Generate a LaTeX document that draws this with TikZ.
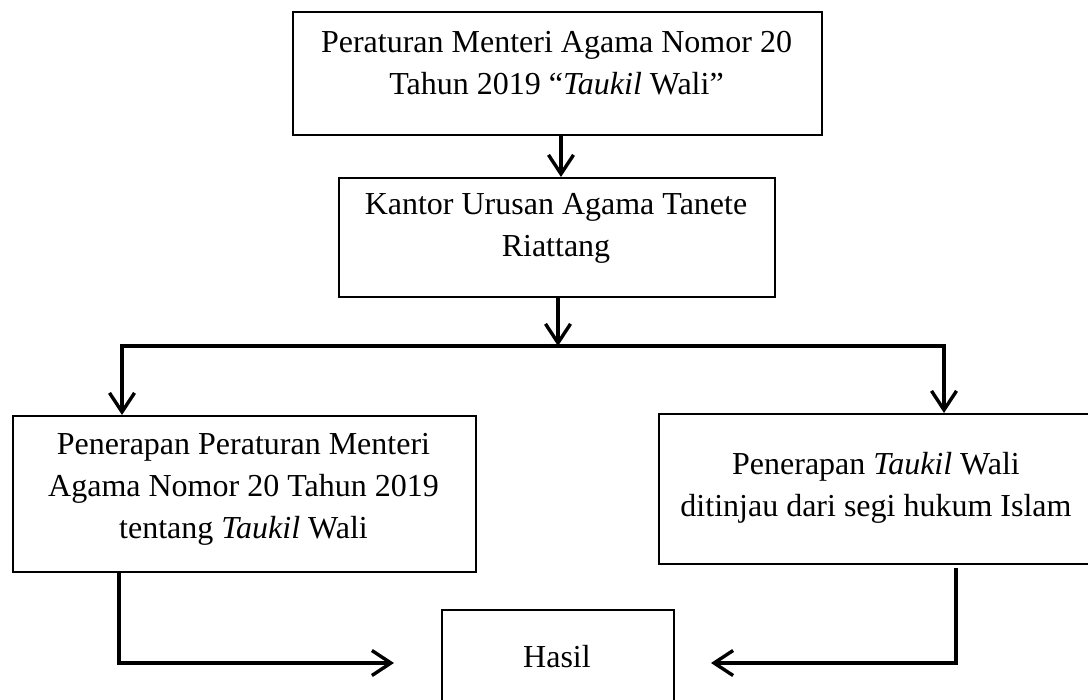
\documentclass[tikz,border=0pt]{standalone}
\usepackage{fontspec}
\setmainfont{Liberation Serif}
\usetikzlibrary{arrows.meta}

\tikzset{
  kotak/.style={draw, line width=2.2pt, rectangle, anchor=north west, inner sep=0pt},
  teks/.style={align=center, anchor=base, inner sep=0pt, font=\fontsize{32}{42}\selectfont},
  garis/.style={line width=3.4pt, line cap=rect},
  panah/.style={-{Straight Barb[length=19pt,width=25pt]}, line width=3.4pt}
}

\begin{document}
\begin{tikzpicture}[x=1pt,y=-1pt]
\useasboundingbox (0,0) rectangle (1088,700);
\clip (0,0) rectangle (1088,700);

%% Kotak %%

\node[kotak, minimum width=529pt, minimum height=123pt] (pma) at (292,11) {};
\node[kotak, minimum width=436pt, minimum height=119pt] (kua) at (338,177) {};
\node[kotak, minimum width=463pt, minimum height=156pt] (pen) at (12,415) {};
\node[kotak, minimum width=436pt, minimum height=150pt] (hukum) at (658,413) {};
\node[kotak, minimum width=232pt, minimum height=92pt] (hasil) at (441,609) {};


%% Teks (anchor pada baris terakhir) %%

\node[teks] (pma-t) at (556.5,95) {Peraturan Menteri Agama Nomor 20\\Tahun 2019 “\textit{Taukil} Wali”};
\node[teks] (kua-t) at (556,257) {Kantor Urusan Agama Tanete\\Riattang};
\node[teks] (pen-t) at (243.5,539) {Penerapan Peraturan Menteri\\Agama Nomor 20 Tahun 2019\\tentang \textit{Taukil} Wali};
\node[teks] (hukum-t) at (876,517) {Penerapan \textit{Taukil} Wali\\ditinjau dari segi hukum Islam};
\node[teks] (hasil-t) at (557,667) {Hasil};


%% Panah %%

\coordinate (turun) at (561,150);
\coordinate (cabang) at (558,346);
\coordinate (kiri) at (122,346);
\coordinate (kanan) at (944,346);

\draw[panah] (pma.south -| turun) -- (kua.north -| turun);
\draw[panah] (kua.south -| cabang) -- (cabang);
\draw[garis] (kiri) -- (kanan);
\draw[panah] (kiri) -- (kiri |- pen.north);
\draw[panah] (kanan) -- (kanan |- hukum.north);

\coordinate (bawahkiri) at (119,663);
\coordinate (masukkiri) at (394,663);
\coordinate (mulaikanan) at (956,568);
\coordinate (masukkanan) at (711,663);

\draw[panah] (pen.south -| bawahkiri) |- (masukkiri);
\draw[panah] (mulaikanan) |- (masukkanan);

\end{tikzpicture}
\end{document}
